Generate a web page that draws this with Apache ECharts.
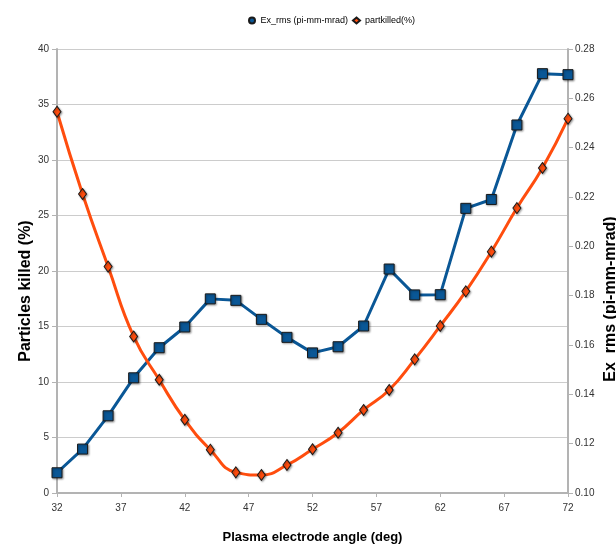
<!DOCTYPE html>
<html>
<head>
<meta charset="utf-8">
<script src="https://cdn.jsdelivr.net/npm/echarts@6/dist/echarts.min.js"></script>
<style>
  html, body { margin: 0; padding: 0; background: #fff; }
  #chart { width: 616px; height: 548px; }
</style>
</head>
<body>
<div id="chart"></div>
<script>
// Plasma electrode angle scan: emittance and particle loss
const angles = [32, 34, 36, 38, 40, 42, 44, 46, 48, 50, 52, 54, 56, 58, 60, 62, 64, 66, 68, 70, 72];
const exRms = [0.1082, 0.1178, 0.1313, 0.1467, 0.1589, 0.1673, 0.1787, 0.1781, 0.1704, 0.1631, 0.1568,
               0.1593, 0.1677, 0.1908, 0.1803, 0.1804, 0.2154, 0.2190, 0.2492, 0.2700, 0.2696];
const partKilled = [34.35, 26.94, 20.4, 14.1, 10.2, 6.6, 3.9, 1.86, 1.62, 2.52, 3.94,
                    5.43, 7.48, 9.28, 12.04, 15.05, 18.17, 21.74, 25.67, 29.28, 33.72];
const xTicks = [32, 37, 42, 47, 52, 57, 62, 67, 72];

const FONT = "'Liberation Sans', Arial, sans-serif";
const AXIS_GREY = '#b3b3b3';
const BLUE = '#0a5796';
const ORANGE = '#ff4d0e';

const chart = echarts.init(document.getElementById('chart'), null, { renderer: 'canvas' });

const markerShadow = {
  shadowColor: 'rgba(0,0,0,0.35)',
  shadowBlur: 2,
  shadowOffsetX: 1,
  shadowOffsetY: 1
};

chart.setOption({
  animation: false,
  backgroundColor: '#fff',
  textStyle: { fontFamily: FONT },
  legend: {
    top: 11,
    left: 243,
    itemWidth: 7,
    itemHeight: 6,
    itemGap: 4,
    textStyle: { fontSize: 9, color: '#000', fontFamily: FONT },
    data: [
      { name: 'Ex_rms (pi-mm-mrad)', icon: 'circle' },
      { name: 'partkilled(%)', icon: 'diamond' }
    ]
  },
  grid: { left: 57, right: 48, top: 49, bottom: 55, outerBoundsMode: 'none' },
  xAxis: {
    type: 'value',
    min: 32,
    max: 72,
    name: 'Plasma electrode angle (deg)',
    nameLocation: 'middle',
    nameGap: 38,
    nameMoveOverlap: false,
    nameTextStyle: { fontSize: 13, fontWeight: 'bold', color: '#000', fontFamily: FONT },
    axisLine: { lineStyle: { color: AXIS_GREY, width: 2 } },
    axisTick: { show: true, customValues: xTicks, length: 4, lineStyle: { color: AXIS_GREY } },
    axisLabel: { customValues: xTicks, margin: 10, fontSize: 10, color: '#333', fontFamily: FONT },
    splitLine: { show: false }
  },
  yAxis: [
    {
      type: 'value',
      position: 'left',
      min: 0,
      max: 40,
      interval: 5,
      name: 'Particles killed (%)',
      nameLocation: 'middle',
      nameRotate: 90,
      nameGap: 23,
      nameMoveOverlap: false,
      nameTextStyle: {
        fontSize: 16, fontWeight: 'bold', color: '#000', fontFamily: FONT,
        padding: [0, 40, 0, 0]
      },
      axisLine: { show: true, lineStyle: { color: AXIS_GREY, width: 2 } },
      axisTick: { show: true, length: 5, lineStyle: { color: AXIS_GREY } },
      axisLabel: { margin: 8, fontSize: 10, color: '#333', fontFamily: FONT },
      splitLine: { show: true, lineStyle: { color: '#cccccc', width: 1 } }
    },
    {
      type: 'value',
      position: 'right',
      min: 0.10,
      max: 0.28,
      interval: 0.02,
      name: 'Ex_rms (pi-mm-mrad)',
      nameLocation: 'middle',
      nameRotate: 90,
      nameGap: 35,
      nameMoveOverlap: false,
      nameTextStyle: {
        fontSize: 16, fontWeight: 'bold', color: '#000', fontFamily: FONT,
        padding: [0, 56, 0, 0]
      },
      axisLine: { show: true, lineStyle: { color: AXIS_GREY, width: 2 } },
      axisTick: { show: true, length: 5, lineStyle: { color: AXIS_GREY } },
      axisLabel: {
        margin: 7, fontSize: 10, color: '#333', fontFamily: FONT,
        formatter: v => v.toFixed(2)
      },
      splitLine: { show: false }
    }
  ],
  series: [
    {
      name: 'Ex_rms (pi-mm-mrad)',
      type: 'line',
      yAxisIndex: 1,
      data: angles.map((a, i) => [a, exRms[i]]),
      symbol: 'rect',
      symbolSize: 10,
      lineStyle: { color: BLUE, width: 3 },
      itemStyle: Object.assign({ color: BLUE, borderColor: '#1a1a1a', borderWidth: 1 }, markerShadow),
      z: 3
    },
    {
      name: 'partkilled(%)',
      type: 'line',
      yAxisIndex: 0,
      smooth: true,
      data: angles.map((a, i) => [a, partKilled[i]]),
      symbol: 'diamond',
      symbolSize: [8, 11],
      lineStyle: { color: ORANGE, width: 3 },
      itemStyle: Object.assign({ color: ORANGE, borderColor: '#1a1a1a', borderWidth: 1 }, markerShadow),
      z: 4
    }
  ]
});
</script>
</body>
</html>
